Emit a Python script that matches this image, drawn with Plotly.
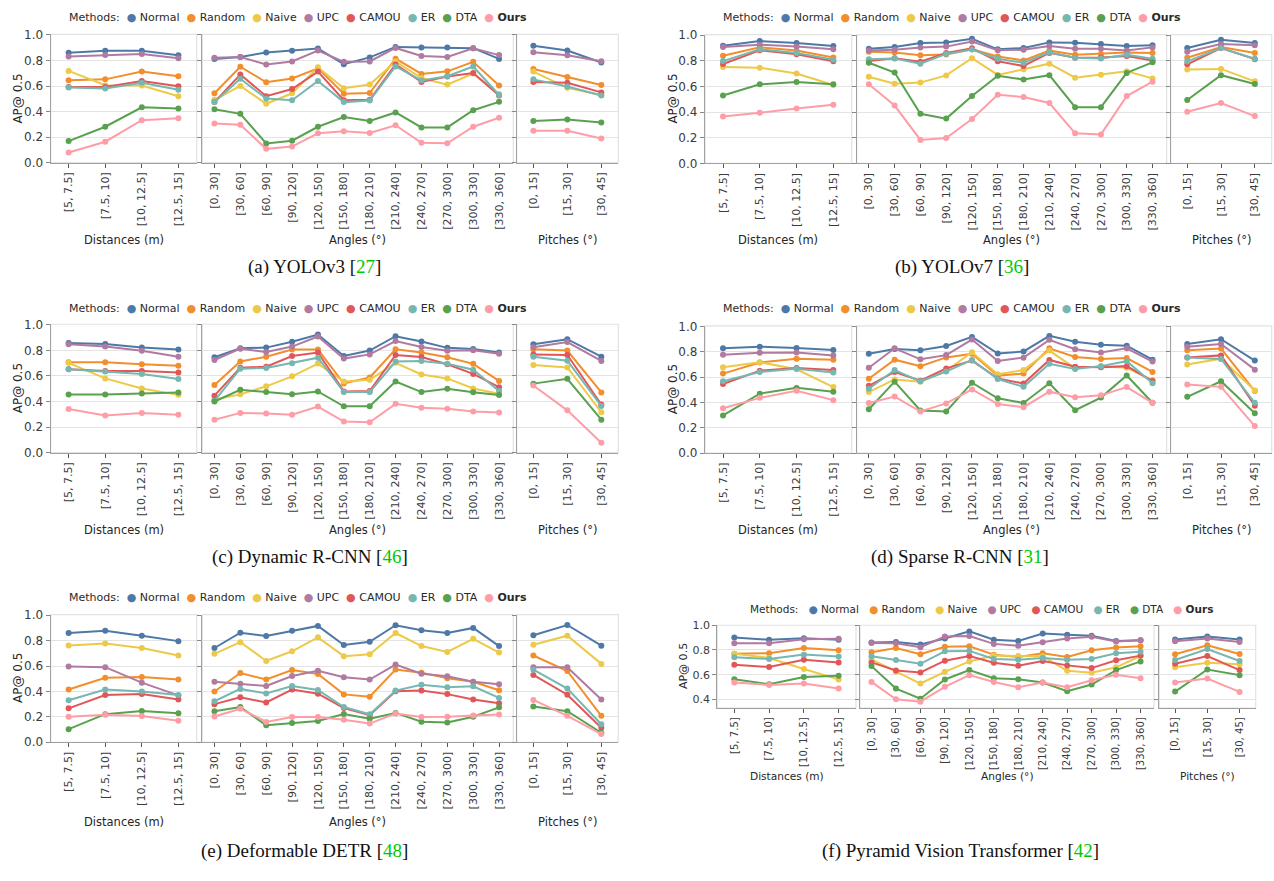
import plotly.graph_objects as go

# ---------------------------------------------------------------- data
METHODS = ["Normal", "Random", "Naive", "UPC", "CAMOU", "ER", "DTA", "Ours"]
COLORS = ["#4e79a7", "#f28e2b", "#edc948", "#b07aa1",
          "#e15759", "#76b7b2", "#59a14f", "#ff9da7"]

DIST_LABELS = ["[5, 7.5]", "[7.5, 10]", "[10, 12.5]", "[12.5, 15]"]
ANGLE_LABELS = ["[0, 30]", "[30, 60]", "[60, 90]", "[90, 120]", "[120, 150]",
                "[150, 180]", "[180, 210]", "[210, 240]", "[240, 270]",
                "[270, 300]", "[300, 330]", "[330, 360]"]
PITCH_LABELS = ["[0, 15]", "[15, 30]", "[30, 45]"]

# (a) YOLOv3
yolov3_dist = {
    "Normal": [0.860, 0.876, 0.876, 0.840],
    "Random": [0.645, 0.652, 0.713, 0.677],
    "Naive":  [0.718, 0.606, 0.604, 0.520],
    "UPC":    [0.832, 0.842, 0.850, 0.817],
    "CAMOU":  [0.593, 0.593, 0.639, 0.598],
    "ER":     [0.588, 0.580, 0.626, 0.570],
    "DTA":    [0.169, 0.281, 0.433, 0.423],
    "Ours":   [0.080, 0.164, 0.332, 0.347],
}
yolov3_angle = {
    "Normal": [0.812, 0.827, 0.863, 0.876, 0.893, 0.771, 0.824, 0.906, 0.901, 0.901, 0.896, 0.812],
    "Random": [0.543, 0.751, 0.629, 0.659, 0.738, 0.540, 0.545, 0.814, 0.695, 0.715, 0.789, 0.604],
    "Naive":  [0.492, 0.601, 0.461, 0.543, 0.746, 0.583, 0.611, 0.792, 0.662, 0.611, 0.698, 0.537],
    "UPC":    [0.822, 0.827, 0.769, 0.792, 0.878, 0.789, 0.792, 0.898, 0.835, 0.827, 0.896, 0.842],
    "CAMOU":  [0.474, 0.690, 0.520, 0.576, 0.713, 0.489, 0.492, 0.769, 0.632, 0.675, 0.702, 0.525],
    "ER":     [0.474, 0.657, 0.502, 0.489, 0.639, 0.474, 0.487, 0.753, 0.644, 0.677, 0.753, 0.530],
    "DTA":    [0.418, 0.382, 0.150, 0.172, 0.281, 0.357, 0.327, 0.393, 0.276, 0.276, 0.410, 0.476],
    "Ours":   [0.306, 0.296, 0.108, 0.126, 0.230, 0.245, 0.233, 0.293, 0.156, 0.151, 0.281, 0.352],
}
yolov3_pitch = {
    "Normal": [0.916, 0.878, 0.784],
    "Random": [0.733, 0.670, 0.608],
    "Naive":  [0.713, 0.586, 0.530],
    "UPC":    [0.865, 0.840, 0.794],
    "CAMOU":  [0.632, 0.626, 0.550],
    "ER":     [0.652, 0.596, 0.525],
    "DTA":    [0.327, 0.337, 0.314],
    "Ours":   [0.250, 0.250, 0.189],
}

# (b) YOLOv7
yolov7_dist = {
    "Normal": [0.918, 0.954, 0.939, 0.916],
    "Random": [0.839, 0.905, 0.880, 0.826],
    "Naive":  [0.752, 0.747, 0.701, 0.612],
    "UPC":    [0.908, 0.926, 0.911, 0.890],
    "CAMOU":  [0.775, 0.882, 0.852, 0.796],
    "ER":     [0.798, 0.890, 0.862, 0.808],
    "DTA":    [0.530, 0.617, 0.635, 0.617],
    "Ours":   [0.366, 0.394, 0.428, 0.458],
}
yolov7_angle = {
    "Normal": [0.895, 0.908, 0.939, 0.944, 0.972, 0.890, 0.900, 0.944, 0.941, 0.931, 0.916, 0.921],
    "Random": [0.870, 0.865, 0.844, 0.849, 0.890, 0.834, 0.803, 0.880, 0.847, 0.854, 0.865, 0.862],
    "Naive":  [0.676, 0.622, 0.630, 0.686, 0.821, 0.690, 0.734, 0.778, 0.668, 0.691, 0.719, 0.663],
    "UPC":    [0.880, 0.887, 0.905, 0.911, 0.951, 0.882, 0.887, 0.916, 0.895, 0.895, 0.880, 0.905],
    "CAMOU":  [0.798, 0.821, 0.793, 0.862, 0.898, 0.796, 0.760, 0.862, 0.824, 0.826, 0.837, 0.803],
    "ER":     [0.813, 0.819, 0.778, 0.854, 0.888, 0.816, 0.785, 0.867, 0.824, 0.819, 0.847, 0.816],
    "DTA":    [0.785, 0.709, 0.387, 0.349, 0.525, 0.683, 0.655, 0.688, 0.438, 0.438, 0.706, 0.788],
    "Ours":   [0.617, 0.451, 0.183, 0.198, 0.346, 0.535, 0.517, 0.471, 0.234, 0.226, 0.525, 0.637],
}
yolov7_pitch = {
    "Normal": [0.900, 0.964, 0.939],
    "Random": [0.824, 0.908, 0.862],
    "Naive":  [0.732, 0.737, 0.640],
    "UPC":    [0.870, 0.931, 0.921],
    "CAMOU":  [0.773, 0.900, 0.813],
    "ER":     [0.796, 0.900, 0.816],
    "DTA":    [0.494, 0.688, 0.619],
    "Ours":   [0.402, 0.471, 0.369],
}

# (c) Dynamic R-CNN
dynamic_dist = {
    "Normal": [0.858, 0.850, 0.822, 0.807],
    "Random": [0.708, 0.708, 0.692, 0.680],
    "Naive":  [0.703, 0.581, 0.502, 0.452],
    "UPC":    [0.848, 0.830, 0.797, 0.751],
    "CAMOU":  [0.652, 0.639, 0.639, 0.627],
    "ER":     [0.652, 0.634, 0.616, 0.576],
    "DTA":    [0.455, 0.455, 0.463, 0.470],
    "Ours":   [0.342, 0.291, 0.311, 0.296],
}
dynamic_angle = {
    "Normal": [0.746, 0.817, 0.822, 0.868, 0.924, 0.756, 0.799, 0.911, 0.870, 0.820, 0.812, 0.784],
    "Random": [0.529, 0.713, 0.751, 0.807, 0.807, 0.541, 0.588, 0.809, 0.784, 0.746, 0.695, 0.561],
    "Naive":  [0.416, 0.456, 0.519, 0.597, 0.697, 0.557, 0.570, 0.703, 0.612, 0.581, 0.502, 0.461],
    "UPC":    [0.725, 0.814, 0.787, 0.830, 0.909, 0.736, 0.769, 0.873, 0.827, 0.797, 0.802, 0.774],
    "CAMOU":  [0.446, 0.665, 0.672, 0.756, 0.784, 0.479, 0.482, 0.764, 0.748, 0.692, 0.616, 0.512],
    "ER":     [0.405, 0.657, 0.662, 0.700, 0.743, 0.474, 0.474, 0.713, 0.718, 0.695, 0.649, 0.482],
    "DTA":    [0.400, 0.492, 0.474, 0.456, 0.479, 0.363, 0.363, 0.557, 0.474, 0.499, 0.472, 0.451],
    "Ours":   [0.257, 0.311, 0.306, 0.296, 0.360, 0.243, 0.238, 0.382, 0.352, 0.344, 0.321, 0.314],
}
dynamic_pitch = {
    "Normal": [0.848, 0.888, 0.751],
    "Random": [0.809, 0.799, 0.471],
    "Naive":  [0.685, 0.667, 0.316],
    "UPC":    [0.825, 0.865, 0.718],
    "CAMOU":  [0.769, 0.764, 0.377],
    "ER":     [0.751, 0.720, 0.365],
    "DTA":    [0.540, 0.578, 0.258],
    "Ours":   [0.525, 0.331, 0.077],
}

# (d) Sparse R-CNN
sparse_dist = {
    "Normal": [0.828, 0.841, 0.831, 0.815],
    "Random": [0.628, 0.715, 0.746, 0.738],
    "Naive":  [0.679, 0.718, 0.662, 0.521],
    "UPC":    [0.777, 0.792, 0.795, 0.772],
    "CAMOU":  [0.546, 0.651, 0.672, 0.656],
    "ER":     [0.567, 0.641, 0.667, 0.636],
    "DTA":    [0.297, 0.469, 0.515, 0.485],
    "Ours":   [0.354, 0.436, 0.492, 0.418],
}
sparse_angle = {
    "Normal": [0.785, 0.823, 0.813, 0.846, 0.918, 0.787, 0.803, 0.926, 0.879, 0.856, 0.849, 0.738],
    "Random": [0.587, 0.738, 0.687, 0.756, 0.785, 0.612, 0.628, 0.828, 0.759, 0.744, 0.751, 0.641],
    "Naive":  [0.482, 0.582, 0.564, 0.650, 0.797, 0.623, 0.656, 0.810, 0.669, 0.687, 0.674, 0.577],
    "UPC":    [0.674, 0.828, 0.741, 0.774, 0.897, 0.728, 0.754, 0.895, 0.821, 0.795, 0.828, 0.723],
    "CAMOU":  [0.531, 0.641, 0.572, 0.669, 0.731, 0.590, 0.549, 0.736, 0.682, 0.679, 0.687, 0.569],
    "ER":     [0.508, 0.656, 0.567, 0.644, 0.736, 0.585, 0.523, 0.705, 0.664, 0.687, 0.726, 0.551],
    "DTA":    [0.346, 0.564, 0.336, 0.328, 0.556, 0.433, 0.395, 0.551, 0.338, 0.438, 0.613, 0.397],
    "Ours":   [0.395, 0.446, 0.328, 0.392, 0.503, 0.387, 0.362, 0.485, 0.441, 0.456, 0.521, 0.397],
}
sparse_pitch = {
    "Normal": [0.862, 0.900, 0.731],
    "Random": [0.813, 0.826, 0.490],
    "Naive":  [0.700, 0.746, 0.495],
    "UPC":    [0.841, 0.862, 0.659],
    "CAMOU":  [0.756, 0.772, 0.374],
    "ER":     [0.756, 0.744, 0.397],
    "DTA":    [0.444, 0.567, 0.315],
    "Ours":   [0.541, 0.523, 0.213],
}

# (e) Deformable DETR
detr_dist = {
    "Normal": [0.860, 0.877, 0.839, 0.796],
    "Random": [0.415, 0.507, 0.514, 0.494],
    "Naive":  [0.762, 0.778, 0.742, 0.683],
    "UPC":    [0.596, 0.591, 0.469, 0.369],
    "CAMOU":  [0.267, 0.372, 0.379, 0.336],
    "ER":     [0.331, 0.415, 0.400, 0.372],
    "DTA":    [0.103, 0.221, 0.246, 0.229],
    "Ours":   [0.201, 0.216, 0.206, 0.170],
}
detr_angle = {
    "Normal": [0.742, 0.862, 0.837, 0.877, 0.916, 0.765, 0.791, 0.921, 0.882, 0.860, 0.900, 0.757],
    "Random": [0.400, 0.545, 0.494, 0.568, 0.538, 0.377, 0.359, 0.573, 0.548, 0.504, 0.476, 0.410],
    "Naive":  [0.696, 0.788, 0.640, 0.716, 0.826, 0.678, 0.693, 0.860, 0.757, 0.711, 0.814, 0.706],
    "UPC":    [0.476, 0.461, 0.443, 0.522, 0.563, 0.512, 0.494, 0.612, 0.540, 0.520, 0.476, 0.456],
    "CAMOU":  [0.300, 0.354, 0.313, 0.415, 0.382, 0.269, 0.213, 0.402, 0.407, 0.379, 0.336, 0.308],
    "ER":     [0.323, 0.420, 0.384, 0.443, 0.412, 0.277, 0.220, 0.407, 0.453, 0.433, 0.441, 0.349],
    "DTA":    [0.244, 0.277, 0.134, 0.152, 0.167, 0.223, 0.185, 0.231, 0.162, 0.155, 0.201, 0.275],
    "Ours":   [0.203, 0.264, 0.160, 0.198, 0.198, 0.178, 0.147, 0.226, 0.198, 0.201, 0.211, 0.218],
}
detr_pitch = {
    "Normal": [0.842, 0.923, 0.760],
    "Random": [0.683, 0.561, 0.208],
    "Naive":  [0.767, 0.839, 0.617],
    "UPC":    [0.591, 0.591, 0.336],
    "CAMOU":  [0.530, 0.374, 0.114],
    "ER":     [0.571, 0.423, 0.142],
    "DTA":    [0.282, 0.244, 0.075],
    "Ours":   [0.333, 0.208, 0.065],
}

# (f) Pyramid Vision Transformer
pvt_dist = {
    "Normal": [0.900, 0.882, 0.895, 0.882],
    "Random": [0.770, 0.773, 0.816, 0.797],
    "Naive":  [0.770, 0.735, 0.645, 0.561],
    "UPC":    [0.854, 0.854, 0.887, 0.890],
    "CAMOU":  [0.680, 0.661, 0.721, 0.699],
    "ER":     [0.740, 0.727, 0.762, 0.746],
    "DTA":    [0.563, 0.522, 0.580, 0.591],
    "Ours":   [0.536, 0.517, 0.528, 0.487],
}
pvt_angle = {
    "Normal": [0.860, 0.865, 0.844, 0.893, 0.950, 0.882, 0.873, 0.933, 0.922, 0.914, 0.873, 0.879],
    "Random": [0.781, 0.816, 0.765, 0.825, 0.830, 0.762, 0.743, 0.773, 0.743, 0.797, 0.819, 0.830],
    "Naive":  [0.724, 0.623, 0.528, 0.623, 0.707, 0.754, 0.751, 0.748, 0.631, 0.615, 0.659, 0.751],
    "UPC":    [0.857, 0.854, 0.822, 0.909, 0.912, 0.849, 0.833, 0.863, 0.893, 0.906, 0.868, 0.879],
    "CAMOU":  [0.699, 0.634, 0.618, 0.713, 0.751, 0.697, 0.672, 0.710, 0.675, 0.653, 0.716, 0.754],
    "ER":     [0.748, 0.718, 0.688, 0.789, 0.792, 0.727, 0.721, 0.735, 0.721, 0.727, 0.773, 0.786],
    "DTA":    [0.669, 0.487, 0.405, 0.561, 0.637, 0.571, 0.563, 0.536, 0.465, 0.520, 0.637, 0.707],
    "Ours":   [0.541, 0.400, 0.381, 0.501, 0.596, 0.541, 0.498, 0.536, 0.498, 0.555, 0.599, 0.571],
}
pvt_pitch = {
    "Normal": [0.884, 0.909, 0.884],
    "Random": [0.765, 0.838, 0.767],
    "Naive":  [0.659, 0.697, 0.684],
    "UPC":    [0.871, 0.893, 0.865],
    "CAMOU":  [0.688, 0.751, 0.637],
    "ER":     [0.718, 0.808, 0.710],
    "DTA":    [0.463, 0.642, 0.596],
    "Ours":   [0.536, 0.569, 0.460],
}

CAPTIONS = [("(a) YOLOv3", "27"), ("(b) YOLOv7", "36"),
            ("(c) Dynamic R-CNN", "46"), ("(d) Sparse R-CNN", "31"),
            ("(e) Deformable DETR", "48"), ("(f) Pyramid Vision Transformer", "42")]
PANEL_DATA = [(yolov3_dist, yolov3_angle, yolov3_pitch),
              (yolov7_dist, yolov7_angle, yolov7_pitch),
              (dynamic_dist, dynamic_angle, dynamic_pitch),
              (sparse_dist, sparse_angle, sparse_pitch),
              (detr_dist, detr_angle, detr_pitch),
              (pvt_dist, pvt_angle, pvt_pitch)]
GROUP_TITLES = ["Distances (m)", "Angles (°)", "Pitches (°)"]
GROUP_LABELS = [DIST_LABELS, ANGLE_LABELS, PITCH_LABELS]

# ---------------------------------------------------------------- layout (pixels)
W, H = 1274, 881
X_LEFT = [(50.7, 196.7), (202.3, 513.3), (516.7, 618.3)]
X_RIGHT = [(705, 851.7), (856.7, 1166.7), (1170.7, 1271.7)]
X_PVT = [(717.3, 856), (860, 1154), (1159.3, 1255.7)]

PANELS = [
    dict(xs=X_LEFT, y=(28.7, 159.0), yr=(0, 1.005), legend=(298, 12), gap=2, lfs=11,
         gt=238, yt=(18, 94), cap=(314, 265), fs=1.0),
    dict(xs=X_RIGHT, y=(29.0, 159.7), yr=(0, 1.005), legend=(952, 12), gap=2, lfs=11,
         gt=238, yt=(673, 94), cap=(962, 265), fs=1.0),
    dict(xs=X_LEFT, y=(323.0, 453.3), yr=(0, 1.005), legend=(298, 307), gap=2, lfs=11,
         gt=532, yt=(18, 388), cap=(310, 559), fs=1.0),
    dict(xs=X_RIGHT, y=(324.7, 453.7), yr=(0, 1.005), legend=(952, 307), gap=2, lfs=11,
         gt=532, yt=(673, 389), cap=(960, 559), fs=1.0),
    dict(xs=X_LEFT, y=(617.7, 747.3), yr=(0, 1.005), legend=(298, 600), gap=2, lfs=11,
         gt=828, yt=(18, 682), cap=(304, 858), fs=1.0),
    dict(xs=X_PVT, y=(628.5, 712.5), yr=(0.33, 1.0), legend=(981, 612), gap=3, lfs=10.5,
         gt=782, yt=(683, 670), cap=(960, 858), fs=0.92),
]


def px(x):
    return x / W


def py(y):
    return 1 - y / H


FONT = "DejaVu Sans"
TXT = "#3b3b3b"
fig = go.Figure()
layout = {}
shapes, annotations = [], []

for p, (panel, data) in enumerate(zip(PANELS, PANEL_DATA)):
    fs = panel["fs"]
    y0, y1 = panel["y"]
    for g in range(3):
        k = p * 3 + g + 1
        sfx = "" if k == 1 else str(k)
        xa, ya = f"xaxis{sfx}", f"yaxis{sfx}"
        xr, yr_ = f"x{sfx}", f"y{sfx}"
        labels = GROUP_LABELS[g]
        n = len(labels)
        xl, xrgt = panel["xs"][g]
        rng = [-0.47, n - 0.45] if g == 1 else [-0.49, n - 0.5]
        layout[xa] = dict(
            domain=[px(xl), px(xrgt)], anchor=yr_, range=rng,
            tickmode="array", tickvals=list(range(n)), ticktext=labels,
            tickangle=-90, ticks="outside", ticklen=4, tickwidth=1, tickcolor="#555",
            tickfont=dict(family=FONT, size=11 * fs, color=TXT),
            showgrid=False, zeroline=False, showline=True, linecolor="#a0a0a0", linewidth=1.3,
            fixedrange=True,
        )
        lo, hi = panel["yr"]
        tv = [v / 10 for v in range(0, 11, 2) if v / 10 >= lo - 1e-9]
        layout[ya] = dict(
            domain=[py(y1), py(y0)], anchor=xr, range=[lo, hi],
            tickmode="array", tickvals=tv, ticktext=[f"{v:.1f}" for v in tv],
            showticklabels=(g == 0), ticks="outside", ticklen=4, tickwidth=1, tickcolor="#888",
            tickfont=dict(family=FONT, size=12 * fs, color=TXT),
            showgrid=True, gridcolor="#e4e4e4", gridwidth=1.2,
            zeroline=False, showline=True, linecolor="#a0a0a0", linewidth=1.3,
            fixedrange=True,
        )
        # light frame around each plot area
        shapes.append(dict(type="rect", xref=f"{xr} domain", yref=f"{yr_} domain",
                           x0=0, x1=1, y0=0, y1=1, layer="below",
                           line=dict(color="#e2e2e2", width=1.2)))
        # group title under the axis
        annotations.append(dict(xref="paper", yref="paper", x=px((xl + xrgt) / 2), y=py(panel["gt"]),
                                text=GROUP_TITLES[g], showarrow=False, xanchor="center", yanchor="middle",
                                font=dict(family=FONT, size=11.5 * fs, color="#262626")))
        series = data[g]
        for m, c in zip(METHODS, COLORS):
            fig.add_trace(go.Scatter(
                x=list(range(n)), y=series[m], mode="lines+markers", name=m,
                line=dict(color=c, width=2), marker=dict(color=c, size=6),
                xaxis=xr, yaxis=yr_, showlegend=False, hoverinfo="x+y+name",
            ))

    # method key above the panel
    parts = ["Methods:"]
    for m, c in zip(METHODS, COLORS):
        label = f"<b>{m}</b>" if m == "Ours" else m
        parts.append(f"<span style='color:{c}'>●</span>\u00a0{label}")
    lx, ly = panel["legend"]
    annotations.append(dict(xref="paper", yref="paper", x=px(lx), y=py(ly),
                            text=("\u00a0" * panel["gap"]).join(parts), showarrow=False,
                            xanchor="center", yanchor="middle",
                            font=dict(family=FONT, size=panel["lfs"], color="#2a2a2a")))
    # y-axis title
    tx, ty = panel["yt"]
    annotations.append(dict(xref="paper", yref="paper", x=px(tx), y=py(ty), text="AP@ 0.5",
                            textangle=-90, showarrow=False, xanchor="center", yanchor="middle",
                            font=dict(family=FONT, size=12 * fs, color="#262626")))
    # caption
    name, ref = CAPTIONS[p]
    cx, cy = panel["cap"]
    annotations.append(dict(xref="paper", yref="paper", x=px(cx), y=py(cy),
                            text=f"{name} [<span style='color:#00c800'>{ref}</span>]",
                            showarrow=False, xanchor="center", yanchor="middle",
                            font=dict(family="Liberation Serif", size=19, color="#111")))

fig.update_layout(
    width=W, height=H, margin=dict(l=0, r=0, t=0, b=0),
    paper_bgcolor="white", plot_bgcolor="white",
    shapes=shapes, annotations=annotations, showlegend=False,
    **layout,
)

fig.write_html("out.html")
